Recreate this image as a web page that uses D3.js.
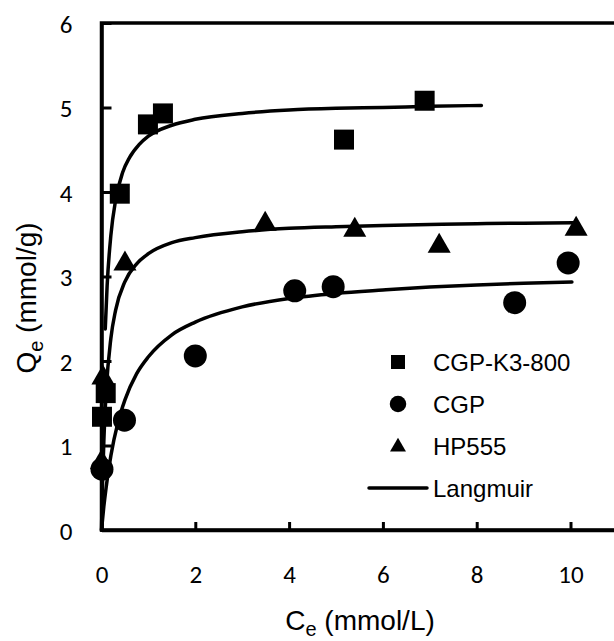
<!DOCTYPE html>
<html>
<head>
<meta charset="utf-8">
<script src="https://cdn.jsdelivr.net/npm/d3@7"></script>
<style>
  html, body { margin: 0; padding: 0; background: #fff; }
  svg { display: block; }
</style>
</head>
<body>
<svg width="614" height="641"></svg>
<script>
// measured points
const k3Ce = [0.01, 0.09, 0.39, 0.99, 1.31, 5.17, 6.89];
const k3Qe = [1.34, 1.62, 3.98, 4.80, 4.93, 4.62, 5.08];
const cgpCe = [0.01, 0.49, 2.00, 4.12, 4.94, 8.81, 9.95];
const cgpQe = [0.72, 1.30, 2.06, 2.83, 2.88, 2.69, 3.16];
const hpCe = [0.00, 0.03, 0.50, 3.49, 5.40, 7.20, 10.12];
const hpQe = [0.80, 1.80, 3.15, 3.62, 3.55, 3.36, 3.56];

// Langmuir fit lines
const k3FitCe = [0.08, 0.12, 0.2, 0.3, 0.45, 0.6, 0.8, 1.0, 1.5, 2, 3, 4, 5, 6, 7, 8.1];
const k3FitQe = [2.38, 2.89, 3.49, 3.90, 4.23, 4.41, 4.56, 4.66, 4.79, 4.86, 4.93, 4.97, 4.99, 5.00, 5.015, 5.024];
const hpFitCe = [0, 0.02, 0.05, 0.1, 0.2, 0.3, 0.5, 0.75, 1, 1.5, 2, 3, 4, 5, 6, 7, 8, 9, 10.05];
const hpFitQe = [0, 0.51, 1.05, 1.64, 2.27, 2.60, 2.94, 3.15, 3.27, 3.40, 3.46, 3.53, 3.57, 3.59, 3.605, 3.616, 3.625, 3.631, 3.635];
const cgpFitCe = [0, 0.05, 0.1, 0.2, 0.35, 0.5, 0.75, 1, 1.5, 2, 3, 4, 5, 6, 7, 8, 9, 10.03];
const cgpFitQe = [0, 0.28, 0.51, 0.88, 1.27, 1.54, 1.85, 2.05, 2.31, 2.46, 2.64, 2.74, 2.80, 2.84, 2.875, 2.90, 2.92, 2.934];

const xTicks = [0, 2, 4, 6, 8, 10];
const yTicks = [0, 1, 2, 3, 4, 5, 6];
const seriesNames = ['CGP-K3-800', 'CGP', 'HP555'];

const svg = d3.select('svg');
const plotLeft = 101.5, plotTop = 23, plotBottom = 530;
const x = d3.scaleLinear().domain([0, 11]).range([plotLeft, plotLeft + 11 * 46.9]);
const y = d3.scaleLinear().domain([0, 6]).range([plotBottom, plotTop]);

const tickFont = 'Carlito, Lato, "Open Sans", sans-serif';
const textFont = '"Liberation Sans", Arial, sans-serif';

// frame
svg.append('rect')
  .attr('x', x(0)).attr('y', y(6))
  .attr('width', x(11) - x(0)).attr('height', y(0) - y(6))
  .attr('fill', 'none').attr('stroke', '#000').attr('stroke-width', 3.5);

// axes, ticks pointing inward
const xAxis = svg.append('g')
  .attr('transform', 'translate(0,' + plotBottom + ')')
  .call(d3.axisBottom(x).tickValues(xTicks).tickFormat(d3.format('d'))
    .tickSizeInner(-8).tickSizeOuter(0).tickPadding(35));
const yAxis = svg.append('g')
  .attr('transform', 'translate(' + plotLeft + ',0)')
  .call(d3.axisLeft(y).tickValues(yTicks).tickFormat(d3.format('d'))
    .tickSizeInner(-10).tickSizeOuter(0).tickPadding(29));
[xAxis, yAxis].forEach(a => {
  a.select('.domain').attr('stroke-width', 3.5);
  a.selectAll('.tick line').attr('stroke-width', 3);
  a.selectAll('.tick text')
    .attr('font-family', tickFont).attr('font-size', 25).attr('fill', '#000');
});
yAxis.selectAll('.tick text').attr('dy', '0.36em');

// fit lines
const line = d3.line().x(d => x(d[0])).y(d => y(d[1])).curve(d3.curveMonotoneX);
[[k3FitCe, k3FitQe], [hpFitCe, hpFitQe], [cgpFitCe, cgpFitQe]].forEach(([cs, qs]) => {
  svg.append('path')
    .attr('d', line(cs.map((c, i) => [c, qs[i]])))
    .attr('fill', 'none').attr('stroke', '#000').attr('stroke-width', 3.5)
    .attr('stroke-linecap', 'round');
});

// markers
const markers = [
  {ce: k3Ce, qe: k3Qe, type: d3.symbolSquare, size: 400, legendSize: 196},
  {ce: cgpCe, qe: cgpQe, type: d3.symbolCircle, size: 415, legendSize: 214},
  {ce: hpCe, qe: hpQe, type: d3.symbolTriangle, size: 230, legendSize: 110},
];
markers.forEach(m => {
  svg.append('g').selectAll('path')
    .data(m.ce.map((c, i) => [c, m.qe[i]]))
    .join('path')
    .attr('transform', d => 'translate(' + x(d[0]) + ',' + y(d[1]) + ')')
    .attr('d', d3.symbol().type(m.type).size(m.size)())
    .attr('fill', '#000');
});

// legend
const legend = svg.append('g');
const legendY = [362, 404, 446];
markers.forEach((m, i) => {
  legend.append('path')
    .attr('transform', 'translate(398,' + (legendY[i] + (i === 2 ? 1 : 0)) + ')')
    .attr('d', d3.symbol().type(m.type).size(m.legendSize)())
    .attr('fill', '#000');
  legend.append('text')
    .attr('x', 433).attr('y', legendY[i] + 8.5)
    .attr('font-family', textFont).attr('font-size', 24)
    .text(seriesNames[i]);
});
legend.append('line')
  .attr('x1', 369).attr('x2', 427).attr('y1', 488).attr('y2', 488)
  .attr('stroke', '#000').attr('stroke-width', 3.5).attr('stroke-linecap', 'round');
legend.append('text')
  .attr('x', 433).attr('y', 497)
  .attr('font-family', textFont).attr('font-size', 24)
  .text('Langmuir');

// axis titles
const xt = svg.append('text')
  .attr('x', 360).attr('y', 630)
  .attr('text-anchor', 'middle')
  .attr('font-family', textFont).attr('font-size', 28);
xt.append('tspan').text('C');
xt.append('tspan').attr('font-size', 20).attr('dy', 6).text('e');
xt.append('tspan').attr('dy', -6).text(' (mmol/L)');

const yt = svg.append('text')
  .attr('transform', 'translate(36,298) rotate(-90)')
  .attr('text-anchor', 'middle')
  .attr('font-family', textFont).attr('font-size', 28);
yt.append('tspan').text('Q');
yt.append('tspan').attr('font-size', 20).attr('dy', 7).text('e');
yt.append('tspan').attr('dy', -7).text(' (mmol/g)');
</script>
</body>
</html>
